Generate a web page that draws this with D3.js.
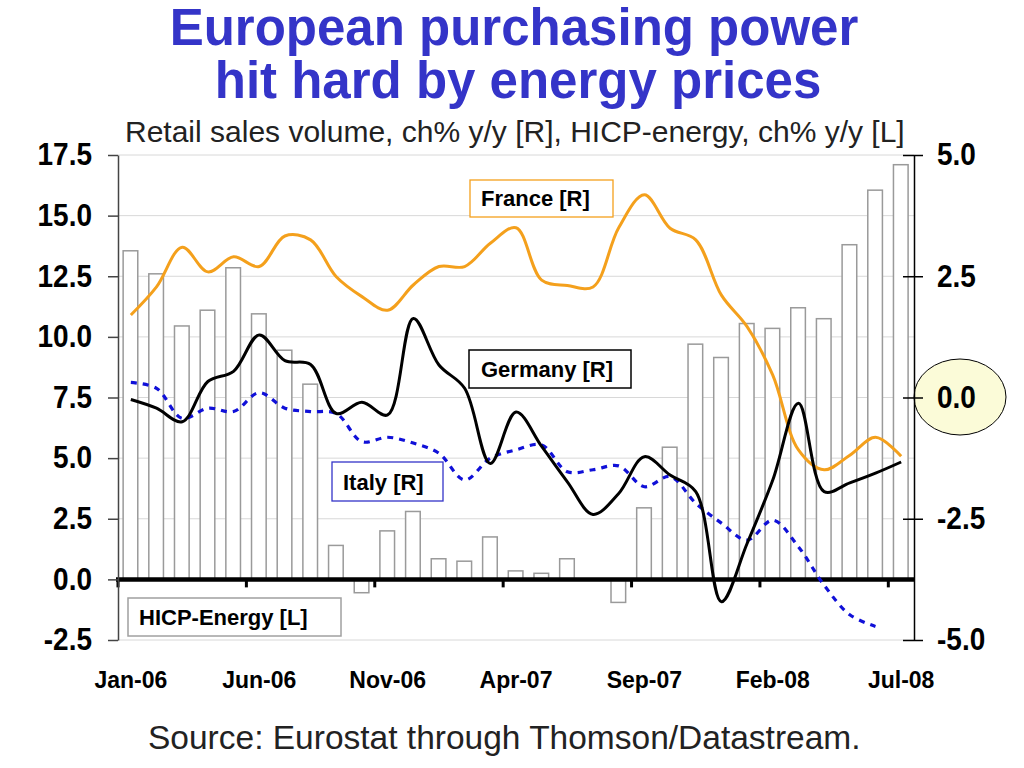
<!DOCTYPE html>
<html><head><meta charset="utf-8">
<script src="https://cdn.jsdelivr.net/npm/d3@7"></script>
<style>
body{margin:0;background:#fff}
svg{display:block}
text{font-family:"Liberation Sans",Arial,Helvetica,sans-serif}
</style>
</head><body>
<svg id="c" width="1024" height="768"></svg>
<script>
// ---- data ----
const months = ["Jan-06","Feb-06","Mar-06","Apr-06","May-06","Jun-06","Jul-06","Aug-06","Sep-06","Oct-06","Nov-06","Dec-06",
  "Jan-07","Feb-07","Mar-07","Apr-07","May-07","Jun-07","Jul-07","Aug-07","Sep-07","Oct-07","Nov-07","Dec-07",
  "Jan-08","Feb-08","Mar-08","Apr-08","May-08","Jun-08","Jul-08"];
const hicpEnergy = [13.55,12.6,10.45,11.1,12.85,10.95,9.45,8.05,1.4,-0.55,2.0,2.8,
  0.85,0.75,1.75,0.35,0.25,0.85,0.0,-0.95,2.95,5.45,9.7,9.15,
  10.55,10.35,11.2,10.75,13.8,16.05,17.1];
const france = [1.70,2.28,3.10,2.59,2.90,2.70,3.33,3.25,2.49,2.08,1.80,2.32,
  2.70,2.70,3.18,3.50,2.42,2.31,2.28,3.50,4.18,3.49,3.25,2.11,
  1.46,0.46,-1.08,-1.49,-1.19,-0.82,-1.21];
const germany = [-0.04,-0.22,-0.50,0.33,0.54,1.29,0.76,0.68,-0.33,-0.10,-0.36,1.63,
  0.67,0.19,-1.36,-0.30,-1.01,-1.74,-2.41,-1.98,-1.22,-1.60,-1.94,-4.21,
  -3.01,-1.70,-0.12,-1.94,-1.76,-1.56,-1.33];
const italy = [0.31,0.19,-0.43,-0.22,-0.29,0.10,-0.22,-0.29,-0.33,-0.91,-0.82,-0.94,
  -1.15,-1.70,-1.25,-1.08,-0.98,-1.53,-1.49,-1.41,-1.84,-1.63,-2.18,-2.59,
  -2.94,-2.53,-3.08,-3.87,-4.48,-4.72,null];
const leftTicks = [-2.5,0,2.5,5,7.5,10,12.5,15,17.5];
const rightTicks = [-5,-2.5,0,2.5,5];
const xTickLabels = ["Jan-06","Jun-06","Nov-06","Apr-07","Sep-07","Feb-08","Jul-08"];

// ---- layout ----
const svg = d3.select("#c");
const X0 = 118, X1 = 914, YT = 155, YB = 640;
const x = d3.scaleBand().domain(months).range([X0, X1]).padding(0);
const bw = x.bandwidth();
const yL = d3.scaleLinear().domain([-2.5, 17.5]).range([YB, YT]);
const yR = d3.scaleLinear().domain([-5, 5]).range([YB, YT]);
const fmt = d => d.toFixed(1);

svg.append("rect").attr("width",1024).attr("height",768).attr("fill","#fff");

// title
svg.append("text").attr("x",514).attr("y",45).attr("text-anchor","middle")
  .attr("font-size",51).attr("font-weight","bold").attr("fill","#3434c8")
  .text("European purchasing power");
svg.append("text").attr("x",518).attr("y",98).attr("text-anchor","middle")
  .attr("font-size",51).attr("font-weight","bold").attr("fill","#3434c8")
  .text("hit hard by energy prices");
svg.append("text").attr("x",125).attr("y",142).attr("font-size",30).attr("fill","#222")
  .text("Retail sales volume, ch% y/y [R], HICP-energy, ch% y/y [L]");

// gridlines
svg.append("g").selectAll("line").data(leftTicks.filter(t => t !== 0)).join("line")
  .attr("x1",X0).attr("x2",X1).attr("y1",d=>yL(d)).attr("y2",d=>yL(d))
  .attr("stroke","#d8d8d8").attr("stroke-width",1);

// bars
svg.append("g").selectAll("rect").data(months.map((m,i)=>({m, v:hicpEnergy[i]}))).join("rect")
  .attr("x",d=>x(d.m)+bw*0.2).attr("width",bw*0.57)
  .attr("y",d=>yL(Math.max(0,d.v))).attr("height",d=>Math.abs(yL(d.v)-yL(0)))
  .attr("fill","#fff").attr("stroke","#9a9a9a").attr("stroke-width",1.5);

// zero line
svg.append("line").attr("x1",X0-2).attr("x2",X1).attr("y1",yL(0)).attr("y2",yL(0))
  .attr("stroke","#000").attr("stroke-width",4.5);
svg.append("g").selectAll("line").data(months.filter((m,i)=>i%5===0)).join("line")
  .attr("x1",d=>x(d)).attr("x2",d=>x(d)).attr("y1",yL(0)).attr("y2",yL(0)+8)
  .attr("stroke","#000").attr("stroke-width",3);

// lines
function drawLine(vals, color, width, dash){
  const data = months.map((m,i)=>({m, v:vals[i]}));
  const line = d3.line().defined(d=>d.v!==null)
    .x(d=>x(d.m)+bw/2).y(d=>yR(d.v)).curve(d3.curveCatmullRom.alpha(0.5));
  const p = svg.append("path").datum(data).attr("d",line).attr("fill","none")
    .attr("stroke",color).attr("stroke-width",width).attr("stroke-linejoin","round");
  if (dash) p.attr("stroke-dasharray",dash);
}
drawLine(france, "#f4a01c", 3, null);
drawLine(italy, "#1010d8", 3.2, "6,6");
drawLine(germany, "#000", 3, null);

// legend boxes
function box(x0,y0,w,h,stroke,sw,label,tx,ty){
  svg.append("rect").attr("x",x0).attr("y",y0).attr("width",w).attr("height",h)
    .attr("fill","#fff").attr("stroke",stroke).attr("stroke-width",sw);
  svg.append("text").attr("x",tx).attr("y",ty).attr("font-size",22).attr("font-weight","bold")
    .attr("fill","#000").text(label);
}
box(470,180,143,37,"#f4a01c",1.3,"France [R]",481,206);
box(469,350,162,38,"#000",1.5,"Germany [R]",481,377);
box(332,462,111,39,"#3434c8",1.3,"Italy [R]",343,490);
box(128,598,213,38,"#a0a0a0",1.5,"HICP-Energy [L]",139,625);

// left axis
const gl = svg.append("g").attr("transform",`translate(${X0},0)`)
  .call(d3.axisLeft(yL).tickValues(leftTicks).tickFormat(fmt).tickSize(10).tickSizeOuter(0).tickPadding(16));
gl.select(".domain").attr("stroke","#444").attr("stroke-width",1.5);
gl.selectAll(".tick line").attr("stroke","#444").attr("stroke-width",1.5);
gl.selectAll("text").attr("font-size",28).attr("font-weight","bold").attr("fill","#000")
  .attr("transform","scale(1,1.1)")
  .style("font-family",'"Liberation Sans",Arial,sans-serif');

// ellipse highlight
svg.append("ellipse").attr("cx",960).attr("cy",397).attr("rx",46).attr("ry",38)
  .attr("fill","#fbfbd8").attr("stroke","#000").attr("stroke-width",1);

// right axis
const gr = svg.append("g").attr("transform",`translate(${X1},0)`)
  .call(d3.axisRight(yR).tickValues(rightTicks).tickFormat(fmt).tickSizeInner(9).tickSizeOuter(0).tickPadding(14));
gr.select(".domain").attr("stroke","#000").attr("stroke-width",1.5);
gr.selectAll(".tick line").attr("x1",-11).attr("stroke","#000").attr("stroke-width",1.5);
gr.selectAll("text").attr("font-size",28).attr("font-weight","bold").attr("fill","#000")
  .attr("transform","scale(1,1.1)")
  .style("font-family",'"Liberation Sans",Arial,sans-serif');

// x labels
const gx = svg.append("g").attr("transform","translate(0,660)")
  .call(d3.axisBottom(x).tickValues(xTickLabels).tickSize(0).tickPadding(12));
gx.select(".domain").remove();
gx.selectAll("text").attr("font-size",23).attr("font-weight","bold").attr("fill","#000")
  .style("font-family",'"Liberation Sans",Arial,sans-serif');

// source
svg.append("text").attr("x",148).attr("y",749).attr("font-size",33.5).attr("fill","#222")
  .text("Source: Eurostat through Thomson/Datastream.");
</script>
</body></html>
